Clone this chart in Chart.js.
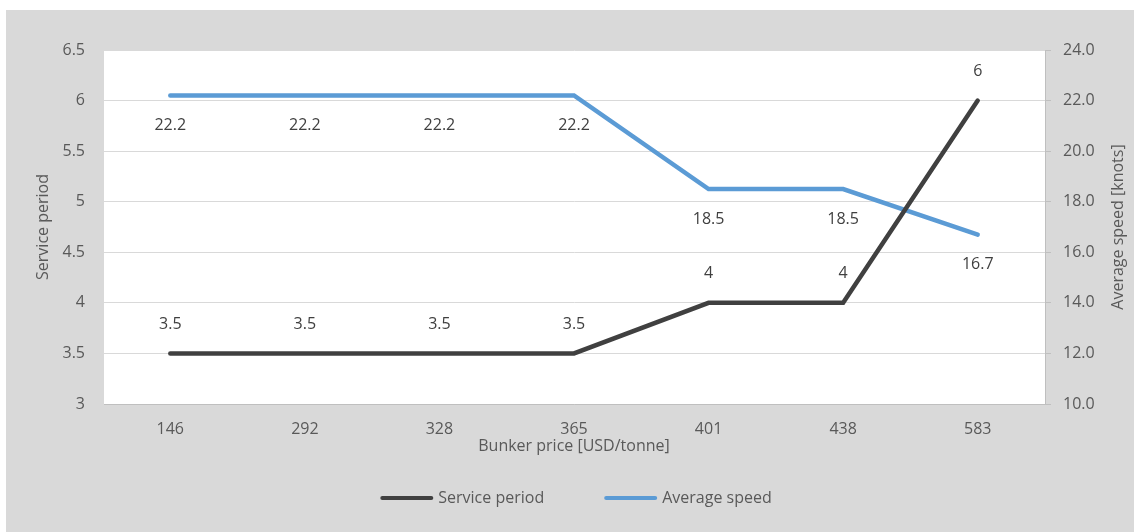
<!DOCTYPE html>
<html>
<head>
<meta charset="utf-8">
<script src="https://cdn.jsdelivr.net/npm/chart.js@4"></script>
<style>
  html, body { margin: 0; padding: 0; background: #fff; }
  #wrap { position: absolute; left: 6px; top: 10px; width: 1128px; height: 522px; background: #d9d9d9; }
  canvas { display: block; }
</style>
</head>
<body>
<div id="wrap"><canvas id="chart" width="1128" height="522"></canvas></div>
<script>
// ---- data ----
const bunkerPrices  = ['146', '292', '328', '365', '401', '438', '583'];
const servicePeriod = [3.5, 3.5, 3.5, 3.5, 4, 4, 6];
const averageSpeed  = [22.2, 22.2, 22.2, 22.2, 18.5, 18.5, 16.7];
const seriesNames   = ['Service period', 'Average speed'];
const seriesColors  = ['#404040', '#5b9bd5'];
const speedTitle    = 'Average speed [knots]';

const FONT = '"Open Sans", "Liberation Sans", sans-serif';
const TXT  = '#595959';

// white plot area
const plotBg = {
  id: 'plotBg',
  beforeDraw(chart) {
    const { ctx, chartArea: a } = chart;
    ctx.save();
    ctx.fillStyle = '#ffffff';
    ctx.fillRect(a.left, a.top, a.right - a.left, a.bottom - a.top);
    ctx.restore();
  }
};

// value labels: service above, speed below
const valueLabels = {
  id: 'valueLabels',
  afterDatasetsDraw(chart) {
    const ctx = chart.ctx;
    ctx.save();
    ctx.font = '16px ' + FONT;
    ctx.fillStyle = '#404040';
    ctx.textAlign = 'center';
    ctx.textBaseline = 'middle';
    chart.data.datasets.forEach((ds, i) => {
      const meta = chart.getDatasetMeta(i);
      meta.data.forEach((pt, j) => {
        const v = ds.data[j];
        const txt = i === 0 ? String(v) : v.toFixed(1);
        const dy = i === 0 ? -29 : 30;
        ctx.fillText(txt, pt.x, pt.y + dy);
      });
    });
    ctx.restore();
  }
};

// right axis title reads bottom-to-top like the left one
const rightTitle = {
  id: 'rightTitle',
  afterDraw(chart) {
    const { ctx, chartArea: a } = chart;
    ctx.save();
    ctx.font = '16px ' + FONT;
    ctx.fillStyle = TXT;
    ctx.textAlign = 'center';
    ctx.textBaseline = 'middle';
    ctx.translate(1112, (a.top + a.bottom) / 2);
    ctx.rotate(-Math.PI / 2);
    ctx.fillText(speedTitle, 0, 0);
    ctx.restore();
  }
};

// legend drawn under the axis title
const bottomLegend = {
  id: 'bottomLegend',
  afterDraw(chart) {
    const ctx = chart.ctx;
    ctx.save();
    ctx.font = '16px ' + FONT;
    const lineW = 53, gap = 5, itemGap = 60;
    const widths = seriesNames.map(n => lineW + gap + ctx.measureText(n).width);
    const total = widths.reduce((s, w) => s + w, 0) + itemGap;
    let x = 570 - total / 2;
    const y = 488;
    seriesNames.forEach((n, i) => {
      ctx.strokeStyle = seriesColors[i];
      ctx.lineWidth = 4;
      ctx.lineCap = 'round';
      ctx.beginPath();
      ctx.moveTo(x + 2, y);
      ctx.lineTo(x + lineW - 2, y);
      ctx.stroke();
      ctx.fillStyle = TXT;
      ctx.textBaseline = 'middle';
      ctx.textAlign = 'left';
      ctx.fillText(n, x + lineW + gap, y);
      x += widths[i] + itemGap;
    });
    ctx.restore();
  }
};

new Chart(document.getElementById('chart'), {
  type: 'line',
  data: {
    labels: bunkerPrices,
    datasets: [
      { label: seriesNames[0], data: servicePeriod, yAxisID: 'y',
        borderColor: seriesColors[0], backgroundColor: seriesColors[0],
        borderWidth: 4.5, pointRadius: 0, tension: 0, fill: false, borderCapStyle: 'round' },
      { label: seriesNames[1], data: averageSpeed, yAxisID: 'y1',
        borderColor: seriesColors[1], backgroundColor: seriesColors[1],
        borderWidth: 4.5, pointRadius: 0, tension: 0, fill: false, borderCapStyle: 'round' }
    ]
  },
  options: {
    responsive: false,
    animation: false,
    layout: { padding: { top: 40, left: 0, right: 0, bottom: 68 } },
    plugins: { legend: { display: false }, tooltip: { enabled: false } },
    scales: {
      x: {
        offset: true,
        grid: { display: false, drawTicks: false },
        border: { color: '#bfbfbf', width: 1 },
        ticks: { color: TXT, font: { family: FONT, size: 16 }, padding: 16, maxRotation: 0 },
        title: { display: true, text: 'Bunker price [USD/tonne]', color: TXT,
                 font: { family: FONT, size: 16 }, padding: { top: 0, bottom: 8 } },
        afterFit(s) { s.height = 60; }
      },
      y: {
        position: 'left',
        min: 3, max: 6.5,
        grid: { color: '#d9d9d9', lineWidth: 1, drawTicks: false },
        border: { color: '#d9d9d9', width: 1 },
        ticks: { stepSize: 0.5, color: TXT, font: { family: FONT, size: 16 }, padding: 18,
                 callback: v => String(v) },
        title: { display: true, text: 'Service period', color: TXT,
                 font: { family: FONT, size: 16 }, padding: { top: 28, bottom: 0 } },
        afterFit(s) { s.width = 97; }
      },
      y1: {
        position: 'right',
        min: 10, max: 24,
        grid: { drawOnChartArea: false, color: '#bfbfbf', tickLength: 6, drawTicks: true },
        border: { color: '#bfbfbf', width: 1 },
        ticks: { stepSize: 2, color: TXT, font: { family: FONT, size: 16 }, padding: 12,
                 callback: v => Number(v).toFixed(1) },
        title: { display: false },
        afterFit(s) { s.width = 89; }
      }
    }
  },
  plugins: [plotBg, valueLabels, rightTitle, bottomLegend]
});
</script>
</body>
</html>
